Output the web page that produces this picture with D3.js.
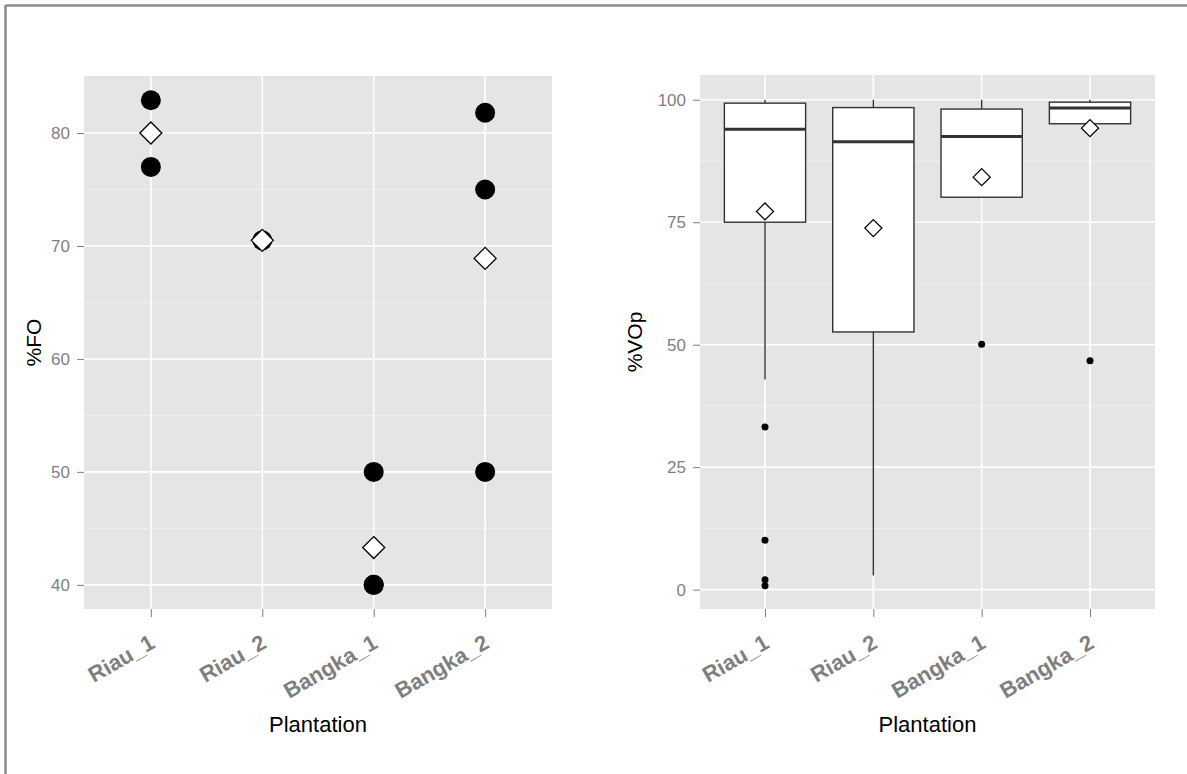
<!DOCTYPE html>
<html><head><meta charset="utf-8">
<script src="https://cdn.jsdelivr.net/npm/d3@7"></script>
<style>body{margin:0;background:#fff}svg{display:block}text{font-family:"Liberation Sans",Arial,sans-serif}</style>
</head><body>
<svg id="c" width="1187" height="774"></svg>
<script>
const categories = ["Riau_1","Riau_2","Bangka_1","Bangka_2"];
// Left panel: %FO
const foValues = [[82.9,77.0],[70.5],[50,40,40],[81.8,75.0,50]];
const foMeans = [80.0,70.5,43.3,68.9];
const foTicks = [40,50,60,70,80];
const foMinor = [45,55,65,75];
// Right panel: %VOp box stats
const vopWhiskerLow = [42.9,2.9,80.1,95.1];
const vopQ1 = [75.0,52.6,80.1,95.1];
const vopMedian = [94.0,91.4,92.5,98.3];
const vopQ3 = [99.3,98.4,98.1,99.5];
const vopWhiskerHigh = [100,100,100,100];
const vopMeans = [77.2,73.8,84.2,94.2];
const vopOutliers = [[33.2,10.1,2.0,0.8],[],[50.1],[46.7]];
const vopTicks = [0,25,50,75,100];
const vopMinor = [12.5,37.5,62.5,87.5];

const svg = d3.select("#c");
// frame
svg.append("line").attr("x1",5.5).attr("x2",1187).attr("y1",5.5).attr("y2",5.5).attr("stroke","#8c8c8c").attr("stroke-width",2.5);
svg.append("line").attr("x1",5.5).attr("x2",5.5).attr("y1",5).attr("y2",774).attr("stroke","#8c8c8c").attr("stroke-width",2.5);

function panel(opt){
  const g = svg.append("g");
  const x = d3.scalePoint().domain(categories).range([opt.x0,opt.x1]).padding(0.6);
  const y = d3.scaleLinear().domain(opt.domain).range([opt.y1,opt.y0]);
  g.append("rect").attr("x",opt.x0).attr("y",opt.y0).attr("width",opt.x1-opt.x0).attr("height",opt.y1-opt.y0).attr("fill","#e5e5e5");
  g.selectAll(".mn").data(opt.minor).join("line").attr("x1",opt.x0).attr("x2",opt.x1)
    .attr("y1",d=>y(d)).attr("y2",d=>y(d)).attr("stroke","#f2f2f2").attr("stroke-width",0.8);
  g.selectAll(".mj").data(opt.ticks).join("line").attr("x1",opt.x0).attr("x2",opt.x1)
    .attr("y1",d=>y(d)).attr("y2",d=>y(d)).attr("stroke","#fff").attr("stroke-width",1.6);
  g.selectAll(".vx").data(categories).join("line").attr("x1",d=>x(d)).attr("x2",d=>x(d))
    .attr("y1",opt.y0).attr("y2",opt.y1).attr("stroke","#fff").attr("stroke-width",1.6);
  // y axis
  const ya = d3.axisLeft(y).tickValues(opt.ticks).tickSize(7).tickPadding(7);
  const yg = g.append("g").attr("transform",`translate(${opt.x0},0)`).call(ya);
  yg.select(".domain").remove();
  yg.selectAll("line").attr("stroke","#7f7f7f");
  yg.selectAll("text").attr("fill","#7f7f7f").style("font-size","17px");
  // x axis
  const xa = d3.axisBottom(x).tickSize(8).tickPadding(0);
  const xg = g.append("g").attr("transform",`translate(0,${opt.y1})`).call(xa);
  xg.select(".domain").remove();
  xg.selectAll("line").attr("stroke","#7f7f7f");
  xg.selectAll("text").attr("fill","#7f7f7f").style("font-size","22px").style("font-weight","bold")
    .attr("text-anchor","end").attr("dy",null).attr("y",null)
    .attr("transform","translate(5,38) rotate(-30)");
  // titles
  g.append("text").attr("x",(opt.x0+opt.x1)/2).attr("y",732).attr("text-anchor","middle")
    .style("font-size","22px").attr("fill","#000").text("Plantation");
  g.append("text").attr("transform",`translate(${opt.ytx},${(opt.y0+opt.y1)/2}) rotate(-90)`)
    .attr("text-anchor","middle").style("font-size","21px").attr("fill","#000").text(opt.ytitle);
  return {g,x,y};
}

function diamond(g,cx,cy,r){
  g.append("path").attr("d",`M${cx},${cy-r}L${cx+r},${cy}L${cx},${cy+r}L${cx-r},${cy}Z`)
    .attr("fill","#fff").attr("stroke","#000").attr("stroke-width",1.3);
}

// Left panel
const L = panel({x0:84,x1:552,y0:76,y1:609,domain:[37.86,85.05],ticks:foTicks,minor:foMinor,ytitle:"%FO",ytx:41});
categories.forEach((c,i)=>{
  foValues[i].forEach(v=>{
    L.g.append("circle").attr("cx",L.x(c)).attr("cy",L.y(v)).attr("r",10).attr("fill","#000");
  });
});
categories.forEach((c,i)=>diamond(L.g,L.x(c),L.y(foMeans[i]),11));

// Right panel
const R = panel({x0:700,x1:1155,y0:75,y1:609,domain:[-3.95,105.05],ticks:vopTicks,minor:vopMinor,ytitle:"%VOp",ytx:642});
const bw = R.x.step()*0.75;
categories.forEach((c,i)=>{
  const cx = R.x(c);
  R.g.append("line").attr("x1",cx).attr("x2",cx).attr("y1",R.y(vopWhiskerHigh[i])).attr("y2",R.y(vopQ3[i])).attr("stroke","#333").attr("stroke-width",1.4);
  R.g.append("line").attr("x1",cx).attr("x2",cx).attr("y1",R.y(vopQ1[i])).attr("y2",R.y(vopWhiskerLow[i])).attr("stroke","#333").attr("stroke-width",1.4);
  R.g.append("rect").attr("x",cx-bw/2).attr("width",bw).attr("y",R.y(vopQ3[i])).attr("height",R.y(vopQ1[i])-R.y(vopQ3[i]))
    .attr("fill","#fff").attr("stroke","#333").attr("stroke-width",1.4);
  R.g.append("line").attr("x1",cx-bw/2).attr("x2",cx+bw/2).attr("y1",R.y(vopMedian[i])).attr("y2",R.y(vopMedian[i])).attr("stroke","#333").attr("stroke-width",3);
  vopOutliers[i].forEach(v=>{
    R.g.append("circle").attr("cx",cx).attr("cy",R.y(v)).attr("r",3.5).attr("fill","#000");
  });
});
categories.forEach((c,i)=>diamond(R.g,R.x(c),R.y(vopMeans[i]),8.5));
</script>
</body></html>
